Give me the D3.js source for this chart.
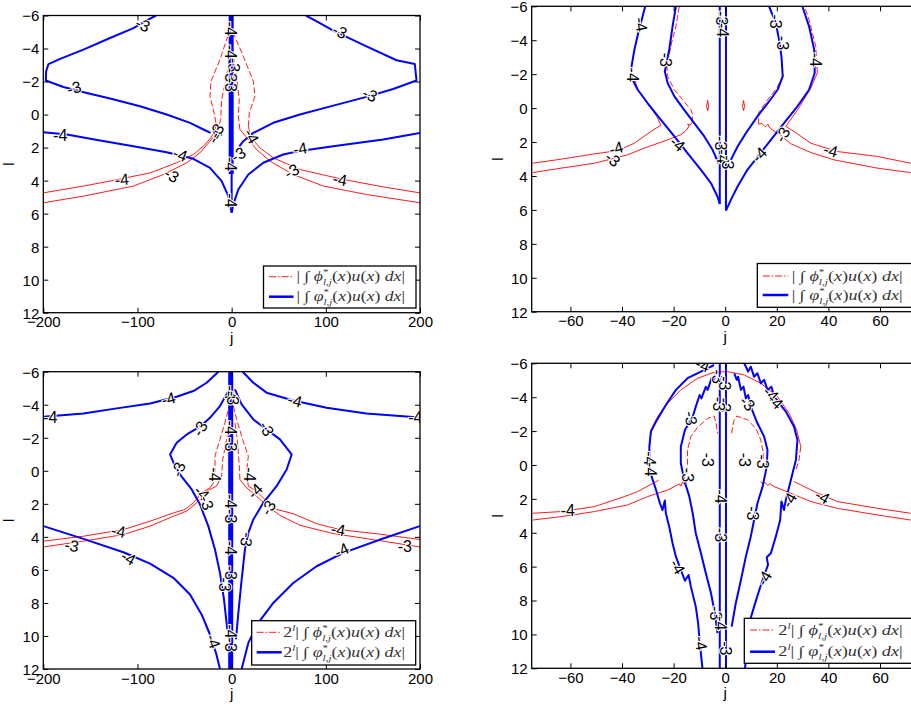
<!DOCTYPE html>
<html>
<head>
<meta charset="utf-8">
<script src="https://cdn.jsdelivr.net/npm/d3@7"></script>
<style>
  body { margin: 0; background: #fff; }
  svg { display: block; }
  text { font-family: "Liberation Sans", Arial, Helvetica, sans-serif; }
</style>
</head>
<body>
<svg id="chart" width="911" height="706"></svg>
<script>
// ---- ticks ----
const ticksL = [-6, -4, -2, 0, 2, 4, 6, 8, 10, 12];
const ticksWide = [-200, -100, 0, 100, 200];
const ticksNarrow = [-60, -40, -20, 0, 20, 40, 60];

// ---- top left: |int phi u| vs |int varphi u| (j, l) ----
const tlBlue = [
  [[-80.3,-6],[-90.2,-5.7],[-104.3,-5.24],[-129.1,-4.64],[-157.4,-3.93],[-182.1,-3.37],[-194.5,-3.06],[-197,-2.62],[-197.3,-2.06],[-178.6,-1.67],[-153.8,-1.31],[-129.1,-0.97],[-97.3,-0.5],[-69,0],[-44.2,0.5],[-28.3,0.95],[-22.3,1.11]],
  [[78.9,-6],[93.7,-5.54],[107.9,-5.08],[143.2,-4.13],[175.1,-3.29],[194.5,-3.06],[196.3,-2.06],[171.5,-1.55],[143.2,-1.07],[107.9,-0.54],[72.5,0],[44.2,0.5],[23,1.11],[12.4,1.61],[8.1,1.92]],
  [[-199.8,1.07],[-175,1.21],[-139.7,1.57],[-104.3,1.92],[-69,2.28],[-40.7,2.68],[-23,3.23],[-10.6,4.03],[-3.5,4.94],[0,5.95]],
  [[199.8,1.11],[160.9,1.51],[107.9,1.92],[72.5,2.2],[54.8,2.42],[33.6,2.92],[17.7,3.63],[7.1,4.54],[1.8,5.44],[0,5.95]],
  [[0,3.6],[0,5.6]]
];
const tlBlueCore = [
  [[-0.5,-6],[-0.5,3.6]]
];
const tlRedSolid = [
  [[-199.8,4.74],[-157.4,4.33],[-125.6,3.99],[-86.6,3.53],[-58.4,2.92],[-40.7,2.42],[-30.1,1.92],[-23,1.47],[-17.7,1.01]],
  [[-199.8,5.34],[-157.4,4.94],[-104.3,4.33],[-72.5,3.63],[-47.7,2.92],[-33.6,2.32],[-23,1.61],[-15.2,1.07]],
  [[199.8,4.74],[160.9,4.38],[118.5,3.93],[72.5,3.33],[44.2,2.62],[30.1,2.02],[20.2,1.35],[17.7,0.71]],
  [[199.8,5.34],[143.2,4.84],[97.3,4.33],[65.4,3.63],[40.7,2.82],[26.5,2.12],[17.7,1.51],[8.8,0.91]]
];
const tlRedDashed = [
  [[-17.7,1.01],[-16.6,0.5],[-19.5,-0.3],[-23,-1.11],[-21.9,-2.02],[-12.4,-3.33],[-4.2,-4.74],[-1.8,-5.75]],
  [[-15.2,1.07],[-11.7,0.3],[-10.6,-0.91],[-5.3,-2.32],[-1.8,-3.53]],
  [[17.7,0.71],[18.7,-0.1],[24.8,-1.11],[23,-2.02],[12.4,-3.53],[1.8,-4.94]],
  [[8.8,0.91],[7.1,0.1],[8.1,-0.91],[6,-1.92],[1.8,-3.53]]
];
const tlLabels = [
  ["-3",-94.4,-5.44,25],["-3",114.9,-5.04,25],["-3",-167.3,-1.61,-15],["-3",146.8,-1.21,25],
  ["-4",-182.1,1.27,0],["-4",-54.8,2.42,20],["-4",72.5,2.06,-10],["-4",-116.7,3.93,-5],
  ["-3",-63.7,3.67,30],["-3",63.7,3.43,-30],["-4",114.9,3.93,10],["-4",-17.7,1.3,-60],
  ["-3",-16,1.0,-60],["-4",21.2,1.31,60],["-4",-1,-5.2,90],["-4",-1,-3.8,90],
  ["-3",2,-3.0,90],["-3",-1,-2.4,90],["-3",-1,-1.8,90],["-3",7.1,2.42,-30],
  ["-4",-1,3.0,90],["-4",-1,5.2,90]
];

// ---- top right (zoom of j) ----
const trBlue = [
  [[-31,-6],[-32,-5.41],[-33.7,-4.43],[-35.2,-3.44],[-36.3,-2.46],[-35.9,-1.67],[-33.9,-1.08],[-30.1,-0.3],[-24.9,0.69],[-19.7,1.67],[-14.6,2.66],[-9.4,3.64],[-5.5,4.43],[-3,5.21],[-2.1,5.65]],
  [[-19.1,-6],[-20.4,-4.82],[-21.7,-3.44],[-23.4,-2.16],[-22.3,-1.48],[-19.7,-0.69],[-15.9,0.1],[-12,0.89],[-8.1,1.67],[-4.9,2.46],[-2.6,3.25]],
  [[17,-6],[19.6,-5.02],[20.9,-4.03],[21.8,-3.05],[22.3,-1.87],[20.3,-1.08],[17,-0.39],[12.5,0.49],[8,1.48],[4.8,2.26],[2.2,3.05]],
  [[29.9,-6],[32.5,-4.82],[34.5,-3.44],[34.7,-2.07],[32.5,-1.08],[28,-0.1],[22.8,0.89],[17.7,1.87],[13.2,2.75],[8.6,3.64],[4.8,4.62],[2.2,5.41],[0.3,6.04]],
  [[-2.1,-6],[-2.1,5.65]],
  [[0.3,-6],[0.3,6.04]]
];
const trBlueCore = [];
const trRedSolid = [
  [[-74.6,3.25],[-63.6,3.01],[-50.7,2.7],[-41.7,2.5],[-35.2,2.07],[-28.8,1.38],[-24.9,1.0],[-26.5,0.5],[-30.1,-0.3],[-33.9,-1.1],[-35.5,-1.9]],
  [[-74.6,3.8],[-63.6,3.54],[-50.7,3.25],[-37.8,2.75],[-31.4,2.36],[-22.3,1.87],[-17.2,1.57],[-15,1.3],[-14,1.05],[-14.6,0.95],[-13.5,1.0],[-12.8,0.85]],
  [[71.9,3.25],[59,2.85],[43.5,2.56],[33.2,2.07],[26.7,1.38],[23.5,1.08],[28.5,0],[33.2,-1.18],[35.7,-2.07]],
  [[71.9,3.8],[59,3.54],[42.2,3.05],[33.2,2.62],[25.4,2.1],[21.5,1.6],[17.5,1.2],[16.5,0.95],[15.5,1.1],[14.2,0.9],[13,0.95]],
  [[-6.8,-0.45],[-6.4,-0.1],[-6.8,0.15],[-7.2,-0.1],[-6.8,-0.45]],
  [[7.1,-0.45],[7.5,-0.1],[7.1,0.15],[6.7,-0.1],[7.1,-0.45]]
];
const trRedDashed = [
  [[-12.8,0.85],[-12.6,0.39],[-13.3,0.1],[-16.5,-0.49],[-19.7,-1.08],[-22.3,-1.87],[-22.6,-2.46],[-20.8,-3.84],[-19.1,-4.82],[-17.8,-6]],
  [[35.7,-2.07],[35.1,-3.64],[32.5,-5.21],[30.8,-6]],
  [[13,0.95],[12.9,0.3],[16.4,-0.49],[20,-1.18],[22.6,-1.97]]
];
const trLabels = [
  ["-4",-32.6,-4.92,80],["-4",-35.9,-1.97,90],["-3",-23,-2.85,90],["-3",-1.4,-5.3,90],
  ["-4",-1,-4.6,90],["-3",19.6,-5.1,90],["-3",22.2,-3.84,90],["-4",35.1,-2.85,90],
  ["-4",-42.3,2.36,-15],["-3",-43.6,3.01,40],["-4",-18.5,2.1,40],["-3",-1.7,2.07,90],
  ["-4",-1,2.85,90],["-3",0.9,3.2,90],["-3",22.2,1.57,-60],["-4",13.2,2.75,-45],["-4",40.9,2.5,15]
];

// ---- bottom left: 2^l weighted ----
const blBlue = [
  [[-199.8,-3.27],[-157.4,-3.47],[-122,-3.78],[-86.6,-4.08],[-58.4,-4.48],[-40.7,-4.83],[-26.5,-5.33],[-14.1,-6]],
  [[11.7,-6],[23,-5.33],[37.1,-4.73],[65.4,-4.26],[100.8,-3.82],[143.2,-3.47],[189.2,-3.27],[199.8,-3.21]],
  [[-2.5,-4.93],[-12.4,-3.92],[-23,-3.21],[-33.6,-2.67],[-47.7,-2.2],[-58.4,-1.7],[-65.4,-0.99],[-60.1,-0.28],[-53.1,0.36],[-42.4,1.13],[-33.6,2.04],[-24.8,3.35],[-17.7,4.77],[-12.4,6.18],[-8.1,7.8],[-4.6,9.62]],
  [[3.5,-4.93],[10.6,-4.02],[23,-3.11],[37.1,-2.51],[51.3,-1.9],[63.7,-0.99],[58.4,-0.08],[47.7,0.93],[33.6,1.94],[23,2.95],[17.7,3.76],[14.1,4.77],[10.6,6.59],[7.1,8.61],[4.6,10.2]],
  [[-199.8,3.35],[-157.4,4.12],[-114.9,4.93],[-86.6,5.62],[-61.9,6.48],[-44.2,7.49],[-31.8,8.71],[-23.7,9.82],[-16.6,11.03],[-12.4,12]],
  [[199.8,3.35],[160.9,4.1],[118.5,4.97],[90.2,5.78],[65.4,6.79],[44.2,8],[28.3,9.21],[17.7,10.42],[10.6,12]]
];
const blBlueCore = [
  [[-1,-6],[-1,12]]
];
const blRedSolid = [
  [[-199.8,4.26],[-157.4,3.96],[-114.9,3.56],[-86.6,3.05],[-61.9,2.55],[-49.5,2.34],[-40.7,1.94],[-31.8,1.33],[-23,1.03],[-19.5,0.73]],
  [[-199.8,4.61],[-157.4,4.26],[-114.9,3.86],[-86.6,3.35],[-61.9,2.75],[-47.7,2.44],[-37.1,1.94],[-26.5,1.23],[-15.9,0.93]],
  [[199.8,4.16],[160.9,3.86],[114.9,3.56],[90.2,3.2],[65.4,2.6],[47.7,2.34],[37.1,1.84],[26.5,1.23],[17.7,0.93]],
  [[199.8,4.61],[153.8,4.2],[107.9,3.8],[72.5,3.3],[51.3,2.7],[37.1,2.1],[26.5,1.54],[15.9,1.03],[8.8,0.53]]
];
const blRedDashed = [
  [[-19.5,0.73],[-17.7,-0.08],[-17.7,-0.89],[-12.4,-1.9],[-7.1,-2.91],[-2.5,-3.92]],
  [[-15.9,0.93],[-10.6,0.32],[-9.5,-0.69],[-5.3,-1.9],[-1.8,-3.31]],
  [[17.7,0.93],[15.9,0.12],[17.7,-0.89],[11.7,-1.9],[5.3,-3.11],[1.8,-3.92]],
  [[8.8,0.53],[8.1,-0.28],[6,-1.9],[3.5,-2.91]]
];
const blLabels = [
  ["-4",-192.7,-3.21,0],["-4",-67.2,-4.36,-15],["-4",67.2,-4.26,15],["-4",195,-3.21,0],
  ["-3",-33.6,-2.55,-60],["-3",37.1,-2.55,60],["-3",-56.6,-0.08,-70],["-4",-17.7,0.22,90],
  ["-4",19.5,0.22,90],["-4",-31.8,1.33,45],["-3",-26.5,1.94,70],["-4",24.8,1.23,-45],
  ["-3",38.9,2.24,-60],["-4",-120.2,3.66,10],["-3",-169.8,4.53,10],["-4",113.2,3.56,10],
  ["-3",183.9,4.57,0],["-4",-109.6,5.27,30],["-4",116.7,4.81,-25],["-3",15.9,4.16,100],
  ["-4",-19.5,10.32,70],["-4",-1,-4.73,90],["-3",1,-4.4,90],["-4",-1,-2.61,90],
  ["-3",-1,-1.6,90],["-4",-1,1.84,90],["-3",-1,2.75,90],["-4",-1,4.67,90],
  ["-3",-1,6.18,90],["-3",-7,6.89,90],["-4",-1,9.72,90],["-3",-1,10.53,90]
];

// ---- bottom right: 2^l weighted, zoom of j ----
const brBlue = [
  [[-4.3,-5.9],[-9.4,-5.51],[-14.6,-5.12],[-19.1,-4.43],[-23,-3.54],[-26.8,-2.56],[-28.8,-1.97],[-29.4,-1.08],[-29.4,-0.1],[-28.5,0.69],[-26.8,1.48],[-25.3,2.26],[-24.3,2.66],[-23.4,2.1],[-23,2.85],[-21.7,3.64],[-20.4,4.62],[-19.1,5.41],[-17.2,6.2],[-15.6,6.83],[-14.2,6.49],[-13.3,7.18],[-11.4,8.36],[-10.5,9.34],[-9.7,10.72],[-8.8,12]],
  [[7.4,-6],[8.9,-5.51],[9.9,-5.8],[11.2,-5.21],[12.5,-5.41],[13.8,-4.82],[15.1,-5.02],[16.4,-4.43],[17.9,-4.62],[19,-4.03],[23.5,-3.15],[26.7,-2.26],[28,-1.48],[27.4,-0.3],[26.1,0.49],[24.8,1.28],[23.5,2.07],[22.8,2.66],[21.8,2.16],[21.3,3.25],[19.6,4.23],[17.7,5.21],[16.1,5.45],[16.6,5.9],[15.4,6.39],[13.2,7.38],[11.2,8.36],[9.3,9.34],[8.3,10.92],[7.7,12]],
  [[-3.6,-5.41],[-4.5,-4.92],[-5.3,-5.12],[-6.8,-4.43],[-7.5,-4.62],[-9.2,-3.93],[-9.9,-4.13],[-11.4,-3.44],[-12.6,-2.85],[-15.6,-2.07],[-17.2,-1.08],[-17.2,-0.1],[-15.9,0.89],[-13.9,1.87],[-12.6,2.85],[-11.4,4.03],[-9.4,5.21],[-7.5,6.39],[-5.5,7.57],[-4,8.75],[-3,9.93]],
  [[3.5,-5.41],[4.5,-5.02],[5,-5.21],[6.1,-4.43],[7.1,-4.62],[8,-3.93],[8.9,-4.13],[9.9,-3.44],[12.5,-2.46],[15.1,-1.67],[16.4,-0.89],[16.1,0.1],[14.5,1.28],[12.5,2.26],[11.2,3.25],[9.9,4.23],[8,5.41],[6.1,6.79],[4.1,8.16],[2.5,9.54]],
  [[-2.1,-6],[-2.1,12]],
  [[0.3,-6],[0.3,12]]
];
const brBlueCore = [];
const brRedSolid = [
  [[-74.6,2.85],[-63.6,2.75],[-50.7,2.46],[-39.1,1.87],[-33.9,1.57],[-27.5,1.04],[-25.8,0.9]],
  [[-74.6,3.25],[-63.6,3.05],[-50.7,2.75],[-37.8,2.36],[-30.1,1.87],[-22.3,1.48],[-17.8,1.12],[-17.2,1.25],[-16.5,1.0],[-15.8,1.15],[-14.8,0.98]],
  [[71.9,2.85],[59,2.56],[43.5,2.16],[34.5,1.57],[26.7,0.98]],
  [[71.9,3.25],[59,2.95],[43.5,2.56],[33.2,2.16],[25.4,1.67],[19,1.28],[17.2,1.1],[16.5,1.22],[15.4,1.02],[14.5,1.15],[13.8,0.98]],
  [[-29.4,-0.89],[-28.8,-2.07],[-26.2,-2.85],[-22.3,-3.64],[-17.2,-4.43],[-10.7,-5.12],[-4.3,-5.47],[0.9,-5.51],[7.4,-5.31],[13.8,-4.82],[20.3,-4.03],[24.8,-3.05],[27.7,-2.07],[29.3,-1.08]]
];
const brRedDashed = [
  [[-14.6,0.49],[-14.6,-0.89],[-13.3,-1.67],[-10.7,-2.22],[-6.8,-2.75],[-4.3,-2.89],[-3.5,-2.46],[-3,-1.87]],
  [[2.5,-1.87],[3.2,-2.56],[4.5,-2.89],[8.6,-2.66],[11.9,-2.16],[13.8,-1.48],[14.8,-0.69],[14.5,0.1]],
  [[29.3,-1.08],[28.6,-0.3],[27.4,0.3]]
];
const brLabels = [
  ["-4",-8.8,-5.9,20],["-3",-3,-5.21,90],["-3",-0.4,-4.82,90],["-3",-0.4,-3.54,90],
  ["-3",-2.5,-3.6,90],["-3",8.6,-3.64,45],["-4",17.7,-4.2,45],["-4",19.5,-3.75,45],
  ["-3",-13.3,-2.75,80],["-4",-29.4,-0.39,90],["-4",-28.8,0.25,90],["-3",-6.8,-0.3,90],
  ["-3",7.4,-0.3,90],["-3",14.5,-0.2,90],["-3",-14.6,0.59,90],["-4",-1.7,1.87,90],
  ["-4",24.8,2.07,-60],["-4",37.7,1.87,30],["-4",-61,2.66,0],["-3",10.6,2.85,90],
  ["-3",-1.7,4.13,90],["-4",-18.5,6,60],["-4",15.1,6.69,-60],["-3",-3.6,8.75,90],
  ["-4",-1.7,9.34,90],["-4",-9.4,10.53,80],["-3",0.3,10.82,90]
];

// ---- legend texts: [text, italic?, position] ----
const legPhi = [["|",0,"n"],[" \u222B ",0,"n"],["\u03D5",1,"n"],["*",0,"sup"],["l,j",1,"sub"],["(",0,"n"],["x",1,"n"],[")",0,"n"],["u",1,"n"],["(",0,"n"],["x",1,"n"],[")",0,"n"],[" d",1,"n"],["x",1,"n"],["|",0,"n"]];
const legVarphi = [["|",0,"n"],[" \u222B ",0,"n"],["\u03C6",1,"n"],["*",0,"sup"],["l,j",1,"sub"],["(",0,"n"],["x",1,"n"],[")",0,"n"],["u",1,"n"],["(",0,"n"],["x",1,"n"],[")",0,"n"],[" d",1,"n"],["x",1,"n"],["|",0,"n"]];
const legPrefix = [["2",0,"n"],["l",1,"sup"]];

// ---- layout ----
const panels = [
  { id: "tl", x0: 43.3, x1: 420, y0: 15.5, y1: 312.7, dom: [-200, 200], ticks: ticksWide,
    blue: tlBlue, core: tlBlueCore, red: tlRedSolid, redDash: tlRedDashed, labels: tlLabels,
    leg: { x: 263.5, y: 266, w: 152.5, h: 42, lx0: 269, lx1: 293.5, tx: 296.5, tw: 108.5, r1: 276.7, r2: 296.7, pre: false } },
  { id: "tr", x0: 531.7, x1: 918.7, y0: 6.3, y1: 311.7, dom: [-75, 75], ticks: ticksNarrow,
    blue: trBlue, core: trBlueCore, red: trRedSolid, redDash: trRedDashed, labels: trLabels,
    leg: { x: 757.3, y: 263.5, w: 157.4, h: 43.8, lx0: 762.7, lx1: 788.3, tx: 791.7, tw: 111, r1: 276, r2: 295, pre: false } },
  { id: "bl", x0: 43.3, x1: 420, y0: 371.7, y1: 669, dom: [-200, 200], ticks: ticksWide,
    blue: blBlue, core: blBlueCore, red: blRedSolid, redDash: blRedDashed, labels: blLabels,
    leg: { x: 251.7, y: 620.7, w: 164, h: 44.3, lx0: 256.7, lx1: 281.7, tx: 283.3, tw: 121.7, r1: 632.3, r2: 652.3, pre: true } },
  { id: "br", x0: 531.7, x1: 918.7, y0: 363.3, y1: 668.3, dom: [-75, 75], ticks: ticksNarrow,
    blue: brBlue, core: brBlueCore, red: brRedSolid, redDash: brRedDashed, labels: brLabels,
    leg: { x: 744.3, y: 618.3, w: 170.4, h: 45, lx0: 750, lx1: 775, tx: 778.3, tw: 124.4, r1: 630, r2: 651.7, pre: true } }
];

const BLUE = "#0000ff", RED = "#ff0000";
const svg = d3.select("#chart");
const defs = svg.append("defs");

function mathText(parent, x0, yb, pieces, size, width) {
  const g = parent.append("g");
  let cx = 0, supStart = null, supEnd = 0;
  pieces.forEach(([t, it, pos]) => {
    const fs = pos === "n" ? size : size * 0.62;
    let px = cx;
    if (pos === "sub" && supStart !== null) px = supStart;
    const dy = pos === "sup" ? -size * 0.42 : pos === "sub" ? size * 0.3 : 0;
    const el = g.append("text")
      .attr("x", px).attr("y", dy)
      .attr("font-size", fs)
      .attr("font-style", it ? "italic" : "normal")
      .style("font-family", "'Liberation Serif','DejaVu Serif',serif")
      .attr("fill", "#333")
      .attr("xml:space", "preserve")
      .text(t);
    const w = el.node().getComputedTextLength();
    if (pos === "sup") { supStart = px; supEnd = px + w; cx = px + w; }
    else if (pos === "sub" && supStart !== null) { cx = Math.max(supEnd, px + w); supStart = null; }
    else { cx = px + w; supStart = null; }
  });
  const sx = width / cx;
  g.attr("transform", `translate(${x0},${yb}) scale(${sx},1)`);
}

function drawPanel(p) {
  const g = svg.append("g");
  const x = d3.scaleLinear().domain(p.dom).range([p.x0, p.x1]);
  const y = d3.scaleLinear().domain([-6, 12]).range([p.y0, p.y1]);
  const line = d3.line().x(d => x(d[0])).y(d => y(d[1]));

  defs.append("clipPath").attr("id", "clip-" + p.id)
    .append("rect").attr("x", p.x0).attr("y", p.y0)
    .attr("width", p.x1 - p.x0).attr("height", p.y1 - p.y0);

  const plot = g.append("g").attr("clip-path", `url(#clip-${p.id})`);

  plot.selectAll(".rs").data(p.red).join("path")
    .attr("d", line).attr("fill", "none")
    .attr("stroke", RED).attr("stroke-width", 0.9);

  plot.selectAll(".rd").data(p.redDash).join("path")
    .attr("d", line).attr("fill", "none")
    .attr("stroke", RED).attr("stroke-width", 0.9)
    .attr("stroke-dasharray", "6,2.5");

  plot.selectAll(".bl").data(p.blue).join("path")
    .attr("d", line).attr("fill", "none")
    .attr("stroke", BLUE).attr("stroke-width", 2)
    .attr("stroke-linejoin", "round");

  plot.selectAll(".bc").data(p.core).join("path")
    .attr("d", line).attr("fill", "none")
    .attr("stroke", BLUE).attr("stroke-width", 5);

  plot.selectAll(".lab").data(p.labels).join("text")
    .attr("transform", d => `translate(${x(d[1])},${y(d[2])}) rotate(${d[3]})`)
    .attr("text-anchor", "middle")
    .attr("dy", "0.35em")
    .attr("font-size", 16)
    .attr("fill", "#000")
    .attr("stroke", "#fff")
    .attr("stroke-width", 2)
    .attr("paint-order", "stroke")
    .text(d => d[0]);

  // axes, MATLAB style: ticks inside on all four sides
  const axB = g.append("g").attr("transform", `translate(0,${p.y1})`)
    .call(d3.axisBottom(x).tickValues(p.ticks).tickSize(-5).tickPadding(4));
  const axT = g.append("g").attr("transform", `translate(0,${p.y0})`)
    .call(d3.axisTop(x).tickValues(p.ticks).tickSize(-5).tickFormat(""));
  const axL = g.append("g").attr("transform", `translate(${p.x0},0)`)
    .call(d3.axisLeft(y).tickValues(ticksL).tickSize(-5).tickPadding(4));
  const axR = g.append("g").attr("transform", `translate(${p.x1},0)`)
    .call(d3.axisRight(y).tickValues(ticksL).tickSize(-5).tickFormat(""));
  [axB, axT, axL, axR].forEach(a => {
    a.select(".domain").remove();
    a.selectAll("line").attr("stroke", "#000");
    a.selectAll("text").attr("font-size", 15).attr("fill", "#000")
      .style("font-family", "'Liberation Sans', Arial, sans-serif");
  });
  axL.selectAll("text").attr("dy", "0.36em");

  g.append("rect").attr("x", p.x0).attr("y", p.y0)
    .attr("width", p.x1 - p.x0).attr("height", p.y1 - p.y0)
    .attr("fill", "none").attr("stroke", "#000").attr("stroke-width", 1.3);

  g.append("text")
    .attr("x", (p.x0 + p.x1) / 2).attr("y", p.y1 + 30)
    .attr("text-anchor", "middle").attr("font-size", 15).text("j");
  g.append("text")
    .attr("transform", `translate(${p.x0 - 29},${(p.y0 + p.y1) / 2}) rotate(-90)`)
    .attr("text-anchor", "middle").attr("font-size", 15).text("l");

  // legend
  const L = p.leg;
  const lg = g.append("g");
  lg.append("rect").attr("x", L.x).attr("y", L.y).attr("width", L.w).attr("height", L.h)
    .attr("fill", "#fff").attr("stroke", "#000").attr("stroke-width", 1.3);
  lg.append("line").attr("x1", L.lx0).attr("x2", L.lx1).attr("y1", L.r1).attr("y2", L.r1)
    .attr("stroke", RED).attr("stroke-width", 0.9).attr("stroke-dasharray", "7,2,1.5,2");
  lg.append("line").attr("x1", L.lx0).attr("x2", L.lx1).attr("y1", L.r2).attr("y2", L.r2)
    .attr("stroke", BLUE).attr("stroke-width", 2.5);
  const pre = L.pre ? legPrefix : [];
  mathText(lg, L.tx, L.r1 + 4.5, pre.concat(legPhi), 14, L.tw);
  mathText(lg, L.tx, L.r2 + 4.5, pre.concat(legVarphi), 14, L.tw);
}

panels.forEach(drawPanel);
</script>
</body>
</html>
